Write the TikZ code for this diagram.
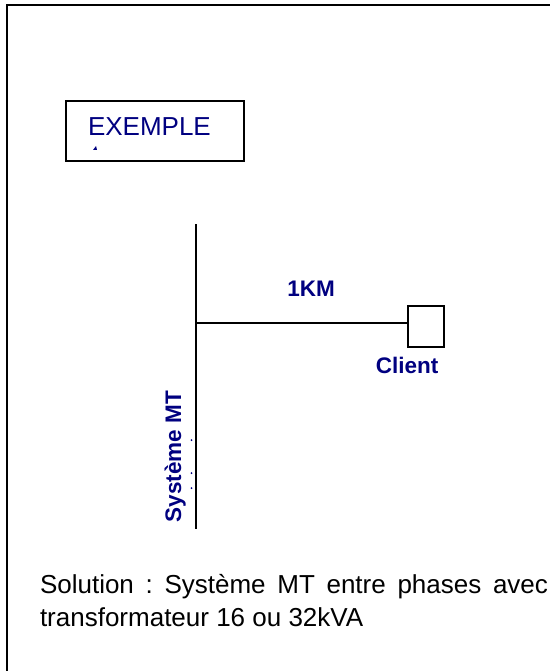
\documentclass[tikz,border=0pt]{standalone}
\usepackage{fontspec}
\setmainfont{Liberation Sans}
\usepackage{xcolor}
\usetikzlibrary{positioning}
\definecolor{marine}{RGB}{0,0,128}
\frenchspacing

\begin{document}
\begin{tikzpicture}[x=1pt, y=-1pt,
    every node/.style={inner sep=0pt, outer sep=0pt},
    etiquette/.style={text=marine, font=\bfseries\fontsize{22.5}{27}\selectfont},
    boite/.style={draw, line width=2pt}]
    \useasboundingbox (0,0) rectangle (550,671);
    % cadre
    \draw[line width=2pt] (7,671) -- (7,5) -- (550,5);
    \node[boite, minimum width=178pt, minimum height=60pt] (exemple) at (155,131) {};
    \node[text=marine, font=\fontsize{26}{31}\selectfont, anchor=base west] (titre) at (88,136) {EXEMPLE};
    \fill[marine] (93,150) -- (96,146) -- (97,150) -- cycle;
    % jeu de barres MT et depart vers le client
    \coordinate (bushaut) at (196,224);
    \coordinate (busbas) at (196,529);
    \coordinate (depart) at (196,323);
    \draw[line width=1.8pt] (bushaut) -- (busbas);
    \node[boite, line width=1.8pt, minimum width=36pt, minimum height=41pt] (client) at (426,326.5) {};
    \draw[line width=1.3pt] (depart) -- (depart -| client.west);
    \node[etiquette, anchor=base] (longueur) at (311,296) {1KM};
    \node[etiquette, anchor=base] (nomclient) at (407,373) {Client};
    \node[etiquette, anchor=base, rotate=90] (systeme) at (181,456.5) {Système MT};
    \foreach \y in {440,473,488}
        \fill[marine] (191.5,\y) circle (1pt);
    % solution
    \node[anchor=north west, text width=508pt, align=justify,
        font=\fontsize{26}{33}\selectfont] (solution) at (40,574)
        {Solution : Système MT entre phases avec transformateur 16 ou 32kVA};
\end{tikzpicture}
\end{document}
